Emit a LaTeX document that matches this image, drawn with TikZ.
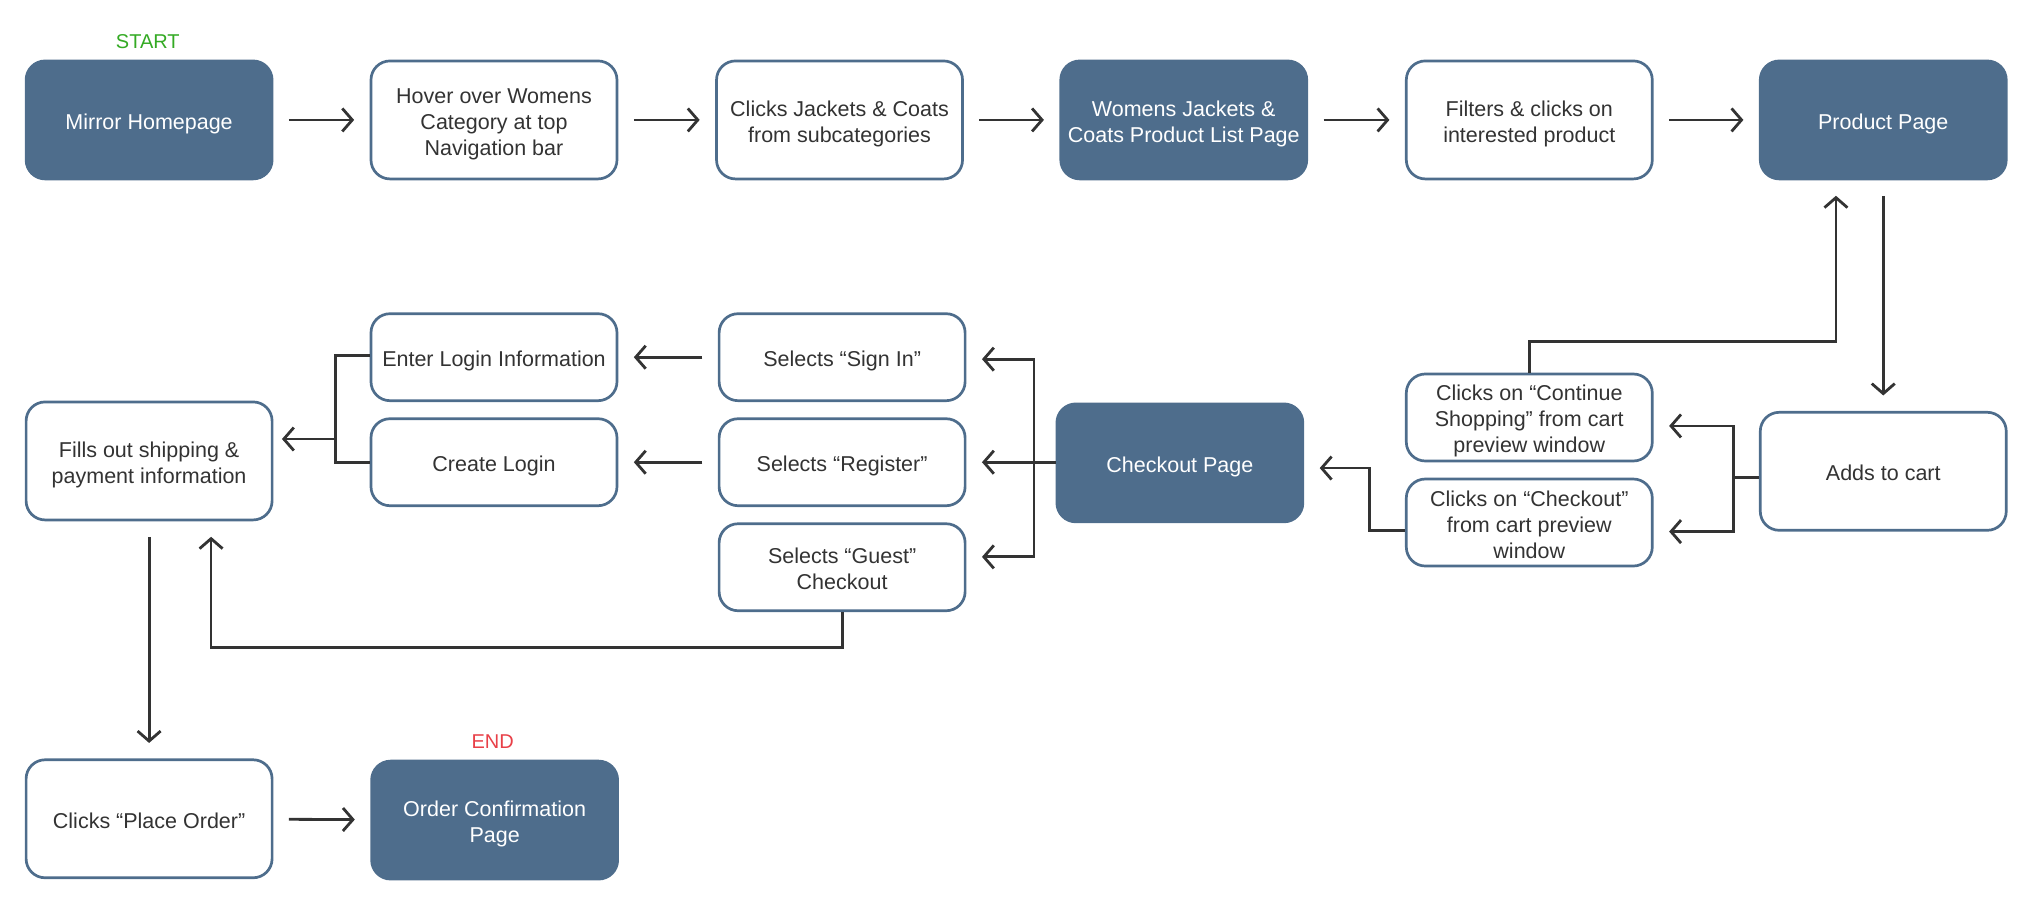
\documentclass[tikz,border=0pt]{standalone}
\usepackage{fontspec}
\setmainfont{Liberation Sans}
\usetikzlibrary{arrows.meta,calc}
\definecolor{boxblue}{RGB}{78,109,140}
\definecolor{txt}{RGB}{51,51,51}
\definecolor{lineg}{RGB}{51,51,51}
\definecolor{startg}{RGB}{52,170,36}
\definecolor{endr}{RGB}{232,64,72}
\newcommand\tst{\rule{0pt}{25pt}}
\newcommand\bst{\rule[-6pt]{0pt}{6pt}}
\begin{document}
\begin{tikzpicture}[x=1.2966pt,y=-1.2966pt,
  base/.style={rectangle,rounded corners=19pt,draw=boxblue,line width=2.7pt,
    minimum width=246pt,align=center,inner sep=2pt,
    font=\fontsize{21.5}{26}\selectfont},
  big/.style={base,minimum height=118pt},
  small/.style={base,minimum height=87pt},
  dark/.style={fill=boxblue,text=white},
  light/.style={fill=white,text=txt},
  conn/.style={draw=lineg,line width=2.8pt},
  arr/.style={conn,-{Straight Barb[length=10pt,width=23pt,line width=2.8pt]}},
  gap/.style={shorten >=15.5pt},
  gapb/.style={shorten <=15.5pt},
  lbl/.style={font=\fontsize{20}{24}\selectfont}]
\useasboundingbox (0,0) rectangle (1568,712);
% row 1
\node[big,dark]  (home)    at (115,92.5)    {\tst Mirror Homepage\bst};
\node[big,light] (hover)   at (381,92.5)    {\tst Hover over Womens\\Category at top\\Navigation bar\bst};
\node[big,light] (jackets) at (647.5,92.5)  {\tst Clicks Jackets \& Coats\\from subcategories\bst};
\node[big,dark]  (plp)     at (913,92.5)    {\tst Womens Jackets \&\\Coats Product List Page\bst};
\node[big,light] (filters) at (1179.5,92.5) {\tst Filters \& clicks on\\interested product\bst};
\node[big,dark]  (product) at (1452.5,92.5) {\tst Product Page\bst};
\node[lbl,text=startg] (start) at (114,32) {START};
% row 2
\node[small,light] (enter)    at (381,275.5)   {\tst Enter Login Information\bst};
\node[small,light] (create)   at (381,356.5)   {\tst Create Login\bst};
\node[small,light] (signin)   at (649.5,275.5) {\tst Selects “Sign In”\bst};
\node[small,light] (register) at (649.5,356.5) {\tst Selects “Register”\bst};
\node[small,light] (guest)    at (649.5,437.5) {\tst Selects “Guest”\\Checkout\bst};
\node[big,light]   (fills)    at (115,355.5)   {\tst Fills out shipping \&\\payment information\bst};
\node[big,dark]    (checkout) at (910,357)     {\tst Checkout Page\bst};
\node[small,light] (cont)     at (1179.5,322)  {\tst Clicks on “Continue\\Shopping” from cart\\preview window\bst};
\node[small,light] (chk)      at (1179.5,403)  {\tst Clicks on “Checkout”\\from cart preview\\window\bst};
\node[big,light]   (adds)     at (1452.5,363.5) {\tst Adds to cart\bst};
% row 3
\node[big,light] (place)   at (115,631.5)  {\tst Clicks “Place Order”\bst};
\node[big,dark]  (confirm) at (381.5,632.5) {\tst Order Confirmation\\Page\bst};
\node[lbl,text=endr] (end) at (380,572) {END};
% row 1 arrows
\draw[arr,gap,gapb] (home) -- (hover);
\draw[arr,gap,gapb] (hover) -- (jackets);
\draw[arr,gap,gapb] (jackets) -- (plp);
\draw[arr,gap,gapb] (plp) -- (filters);
\draw[arr,gap,gapb] (filters) -- (product);
% product -> adds
\draw[arr,gap,gapb] (product) -- (adds);
% continue shopping -> product
\coordinate (cs) at (1416,263.5);
\draw[arr,gap] (cont.north) |- (cs) -- (cs |- product.south);
% adds -> cont / chk
\coordinate (ja) at (1337,368);
\draw[conn] (adds.west |- ja) -- (ja);
\draw[arr,gap] (ja) |- ($(cont.east)+(0,6.5)$);
\draw[arr,gap] (ja) |- ($(chk.east)+(0,7)$);
% chk -> checkout page
\coordinate (jc) at (1056,409);
\draw[arr,gap] (chk.west |- jc) -- (jc) |- ($(checkout.east)+(0,4)$);
% checkout page -> selects
\coordinate (jd) at (797.5,356.5);
\draw[conn] (checkout.west |- jd) -- (jd);
\draw[arr,gap] (jd) |- ($(signin.east)+(0,1.5)$);
\draw[arr,gap] (jd) -- (register.east);
\draw[arr,gap] (jd) |- ($(guest.east)+(0,-8)$);
% selects -> login boxes
\draw[arr,gap,gapb] (signin) -- (enter);
\draw[arr,gap,gapb] (register) -- (create);
% login boxes -> fills
\coordinate (je) at (258.5,338.6);
\draw[conn] ($(enter.west)+(0,-1.5)$) -| (je |- create.west) -- (create.west);
\draw[arr,shorten >=8.5pt] (je) -- (fills.east |- je);
% guest -> fills
\coordinate (jg) at (162.8,499.5);
\draw[arr,gap] (guest.south) |- (jg) -- (jg |- fills.south);
% fills -> place
\draw[arr,gap,gapb] (fills.south -| place.north) -- (place.north);
% place -> confirm
\draw[arr,gap,gapb] (place) -- (confirm);
\end{tikzpicture}
\end{document}
